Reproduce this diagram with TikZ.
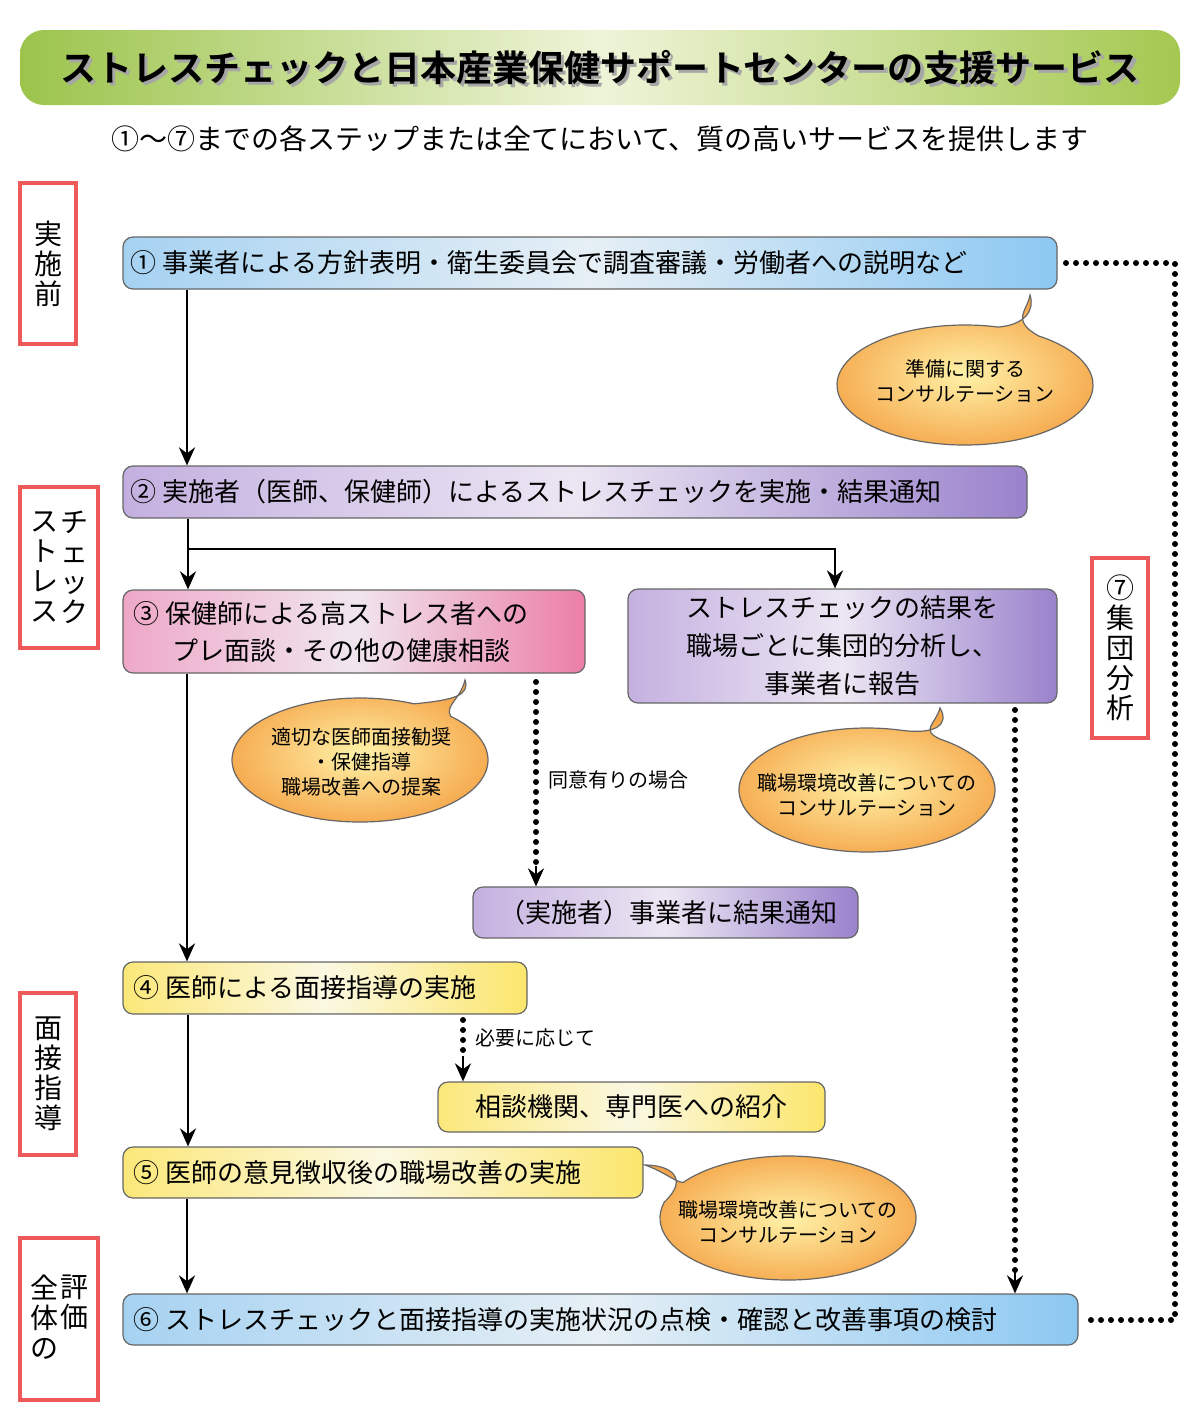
\documentclass[tikz,border=0pt]{standalone}
\usepackage{fontspec}
\setmainfont{Noto Sans CJK JP}
\newfontfamily\jpb{Noto Sans CJK JP Bold}
\usetikzlibrary{arrows.meta,fit,calc}
\definecolor{bL}{HTML}{A6D2F2}\definecolor{bM}{HTML}{E6EFF5}\definecolor{bR}{HTML}{8CC8F2}
\definecolor{pL}{HTML}{C4B0E0}\definecolor{pM}{HTML}{ECE6F3}\definecolor{pR}{HTML}{9A82CC}
\definecolor{kL}{HTML}{EEA8C8}\definecolor{kM}{HTML}{F0E6EF}\definecolor{kR}{HTML}{EC7EA6}
\definecolor{yL}{HTML}{FBE87A}\definecolor{yM}{HTML}{FBF8E2}\definecolor{yR}{HTML}{FBE66C}
\definecolor{oI}{HTML}{FFF2A8}\definecolor{oO}{HTML}{F5A64A}
\definecolor{gL}{HTML}{9CC44C}\definecolor{gM}{HTML}{EEF4D8}\definecolor{gR}{HTML}{A4C850}
\definecolor{redb}{HTML}{EE5A5A}
\tikzset{
 box/.style={draw=black!60,line width=0.6pt,rounded corners=5pt,inner sep=0pt},
 blue/.style={left color=bL,right color=bR,middle color=bM},
 purp/.style={left color=pL,right color=pR,middle color=pM},
 pink/.style={left color=kL,right color=kR,middle color=kM},
 yel/.style={left color=yL,right color=yR,middle color=yM},
 txt/.style={font=\fontsize{13}{15.5}\selectfont,inner sep=0pt},
 btxt/.style={font=\fontsize{10}{12.5}\selectfont,align=center,inner sep=0pt},
 lbl/.style={draw=redb,line width=1.6pt,inner sep=0pt},
 ltxt/.style={font=\fontsize{14}{15}\selectfont,align=center,inner sep=0pt},
 arr/.style={line width=1.3pt,-{Stealth[length=9pt,width=8pt]}},
 dot/.style={line width=3pt,line cap=round,dash pattern=on 0pt off 5pt},
 bub/.style={draw=black!60,line width=0.6pt,inner color=oI,outer color=oO},
}
\begin{document}
\begin{tikzpicture}[x=0.5pt,y=-0.5pt]
\useasboundingbox (0,0) rectangle (1200,1425);
% title
\node[fit={(20,30) (1180,105)},rounded corners=12pt,inner sep=0pt,left color=gL,right color=gR,middle color=gM] (title) {};
\node[font=\jpb\fontsize{18}{20}\selectfont,text=black!35] at ($(title.center)+(3,3)$) {ストレスチェックと日本産業保健サポートセンターの支援サービス};
\node[font=\jpb\fontsize{18}{20}\selectfont] (tt) at (title.center) {ストレスチェックと日本産業保健サポートセンターの支援サービス};
\node[font=\fontsize{14}{16}\selectfont] (sub) at (600,139) {①～⑦までの各ステップまたは全てにおいて、質の高いサービスを提供します};
% left labels
\node[lbl,fit={(20,183) (76,344)}] (L1) {};
\node[ltxt] at (48,264) {実\\施\\前};
\node[lbl,fit={(20,487) (98,648)}] (L2) {};
\node[ltxt] at (44,567) {ス\\ト\\レ\\ス};
\node[ltxt] at (74,567) {チ\\ェ\\ッ\\ク};
\node[lbl,fit={(20,993) (76,1155)}] (L3) {};
\node[ltxt] at (48,1074) {面\\接\\指\\導};
\node[lbl,fit={(20,1238) (98,1400)}] (L4) {};
\node[ltxt,anchor=north] at (45,1275) {全\\体\\の};
\node[ltxt,anchor=north] at (75,1275) {評\\価};
\node[lbl,fit={(1092,558) (1148,738)}] (L7) {};
\node[ltxt] at (1120,648) {⑦\\集\\団\\分\\析};
% boxes
\node[box,blue,fit={(123,237) (1057,289)}] (b1) {};
\node[txt,anchor=west] at (130,263) {① 事業者による方針表明・衛生委員会で調査審議・労働者への説明など};
\node[box,purp,fit={(123,466) (1027,518)}] (b2) {};
\node[txt,anchor=west] at (130,492) {② 実施者（医師、保健師）によるストレスチェックを実施・結果通知};
\node[box,pink,fit={(123,590) (585,673)}] (b3) {};
\node[txt,anchor=west] at (133,614) {③ 保健師による高ストレス者への};
\node[txt,anchor=west] at (172,651) {プレ面談・その他の健康相談};
\node[box,purp,fit={(628,589) (1057,703)}] (bg) {};
\node[txt,align=center,font=\fontsize{13}{19}\selectfont] at (842,646) {ストレスチェックの結果を\\職場ごとに集団的分析し、\\事業者に報告};
\node[box,purp,fit={(473,887) (858,938)}] (bj) {};
\node[txt] at (668,913) {（実施者）事業者に結果通知};
\node[box,yel,fit={(123,962) (527,1014)}] (b4) {};
\node[txt,anchor=west] at (133,988) {④ 医師による面接指導の実施};
\node[box,yel,fit={(438,1082) (825,1132)}] (bs) {};
\node[txt] at (631,1107) {相談機関、専門医への紹介};
\node[box,yel,fit={(123,1147) (643,1198)}] (b5) {};
\node[txt,anchor=west] at (133,1173) {⑤ 医師の意見徴収後の職場改善の実施};
\node[box,blue,fit={(123,1294) (1078,1345)}] (b6) {};
\node[txt,anchor=west] at (133,1320) {⑥ ストレスチェックと面接指導の実施状況の点検・確認と改善事項の検討};
% bubbles
\path[bub] (965,385) ++(-55:128 and 60) arc[start angle=-55,end angle=285,x radius=128,y radius=60] .. controls (1025,325) and (1035,310) .. (1030,295) .. controls (1028,310) and (1010,320) .. cycle;
\node[btxt] (t1) at (965,381) {準備に関する\\コンサルテーション};
\path[bub] (360,760) ++(-45:128 and 62) arc[start angle=-45,end angle=295,x radius=128,y radius=62] .. controls (455,700) and (470,695) .. (465,680) .. controls (460,700) and (445,705) .. cycle;
\node[btxt] (t2) at (361,762) {適切な医師面接勧奨\\・保健指導\\職場改善への提案};
\path[bub] (867,790) ++(-55:128 and 62) arc[start angle=-55,end angle=285,x radius=128,y radius=62] .. controls (935,735) and (950,725) .. (940,708) .. controls (935,725) and (920,730) .. cycle;
\node[btxt] (t3) at (867,795) {職場環境改善についての\\コンサルテーション};
\path[bub] (788,1218) ++(-145:128 and 62) arc[start angle=-145,end angle=195,x radius=128,y radius=62] .. controls (690,1178) and (670,1165) .. (645,1165) .. controls (665,1172) and (675,1182) .. cycle;
\node[btxt] (t4) at (788,1222) {職場環境改善についての\\コンサルテーション};
% arrows
\draw[arr] (b1.south -| 187,0) -- (b2.north -| 187,0);
\draw[arr] (b2.south -| 188,0) -- (b3.north -| 188,0);
\coordinate (br) at (188,549);
\draw[arr] (br) -- (835,549) -- (bg.north -| 835,0);
\draw[arr] (b3.south -| 187,0) -- (b4.north -| 187,0);
\draw[arr] (b4.south -| 188,0) -- (b5.north -| 188,0);
\draw[arr] (b5.south -| 187,0) -- (b6.north -| 187,0);
\draw[dot] (536,682) -- (536,868);
\draw[arr] (536,866) -- (bj.north -| 536,0);
\node[btxt,anchor=west] at (548,780) {同意有りの場合};
\draw[dot] (463,1020) -- (463,1058);
\draw[arr] (463,1056) -- (bs.north -| 463,0);
\node[btxt,anchor=west] at (475,1038) {必要に応じて};
\draw[dot] (1015,710) -- (1015,1272);
\draw[arr] (1015,1268) -- (b6.north -| 1015,0);
\draw[dot] (1066,263) -- (1175,263) -- (1175,1320) -- (1088,1320);
\end{tikzpicture}
\end{document}
